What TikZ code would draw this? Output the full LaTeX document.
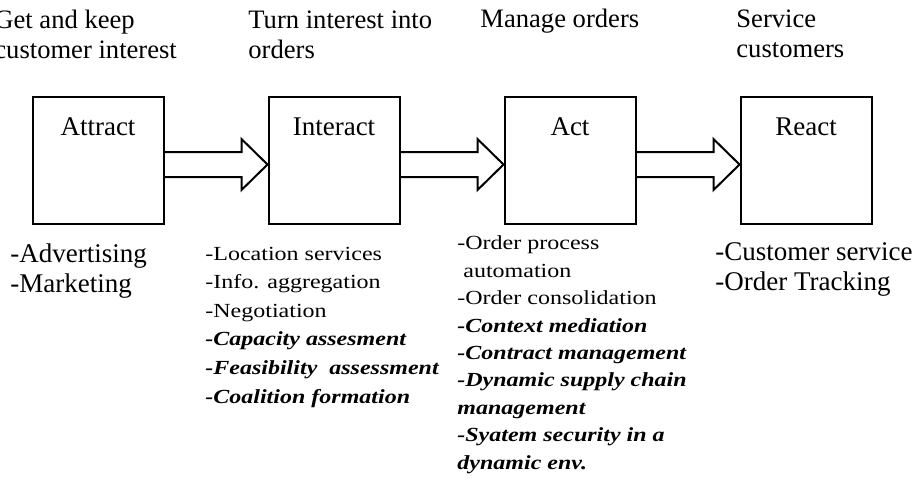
\documentclass[tikz,border=0pt]{standalone}
\usepackage{fontspec}
\setmainfont{Liberation Serif}
\newfontfamily\listfont[FakeStretch=1.2]{Liberation Serif}
\usepackage{tikz}
\usetikzlibrary{positioning,calc}

% open block arrow from one stage to the next
\newcommand{\flowarrow}[2]{%
  \draw[flow] ($(#1.east)+(0,-8.5)$) -- ($(#2.west)+(-26,-8.5)$)
    -- ($(#2.west)+(-26,-21.5)$) -- ($(#2.west)+(0,4)$)
    -- ($(#2.west)+(-26,29.5)$) -- ($(#2.west)+(-26,16.5)$)
    -- ($(#1.east)+(0,16.5)$);}

\begin{document}
\begin{tikzpicture}[x=0.5pt, y=-0.5pt,
  stage/.style={draw, line width=1pt, minimum width=65.5pt, minimum height=63.5pt,
                inner sep=0pt},
  stagename/.style={font=\fontsize{13.5}{15}\selectfont, inner sep=0pt},
  goal/.style={anchor=base west, align=left, inner sep=0pt,
               font=\fontsize{13.3}{15}\selectfont},
  bigitems/.style={anchor=base west, align=left, inner sep=0pt,
                   font=\fontsize{13.5}{15}\selectfont},
  items/.style={anchor=base west, align=left, inner sep=0pt,
                font=\listfont\fontsize{10}{14.3}\selectfont},
  flow/.style={line width=1pt, line join=miter}
]
\useasboundingbox (0,0) rectangle (915,479);

\node[stage] (attract) at (98,160.5) {};
\node[stage, right=51.5pt of attract] (interact) {};
\node[stage, right=51.5pt of interact] (act) {};
\node[stage, right=51.5pt of act] (react) {};

\node[stagename] (attractname) at ($(attract.north)+(0,31)$) {Attract};
\node[stagename] (interactname) at ($(interact.north)+(0,31)$) {Interact};
\node[stagename] (actname) at ($(act.north)+(0,31)$) {Act};
\node[stagename] (reactname) at ($(react.north)+(0,31)$) {React};

\flowarrow{attract}{interact}
\flowarrow{interact}{act}
\flowarrow{act}{react}

% goals above the stages (placed by the last line's baseline)
\node[goal] (goalattract) at (-6,58) {Get and keep\\customer interest};
\node[goal] (goalinteract) at (248,58) {Turn interest into\\orders};
\node[goal] (goalact) at (480,27) {Manage orders};
\node[goal] (goalreact) at (736,57) {Service\\customers};

% activities below the stages
\node[bigitems] (attractitems) at (10,292) {-Advertising\\-Marketing};
\node[items] (interactitems) at (205,403) {-Location services\\-Info. aggregation\\-Negotiation\\
  {\bfseries\itshape -Capacity assesment}\\{\bfseries\itshape -Feasibility\ \ assessment}\\
  {\bfseries\itshape -Coalition formation}};
\node[items, font=\listfont\fontsize{10}{13.7}\selectfont] (actitems) at (457,469)
  {-Order process\\\hspace{3pt}automation\\-Order consolidation\\
  {\bfseries\itshape -Context mediation}\\{\bfseries\itshape -Contract management}\\
  {\bfseries\itshape -Dynamic supply chain}\\{\bfseries\itshape management}\\
  {\bfseries\itshape -Syatem security in a}\\{\bfseries\itshape dynamic env.}};
\node[bigitems] (reactitems) at (715,290) {-Customer service\\-Order Tracking};
\end{tikzpicture}
\end{document}
